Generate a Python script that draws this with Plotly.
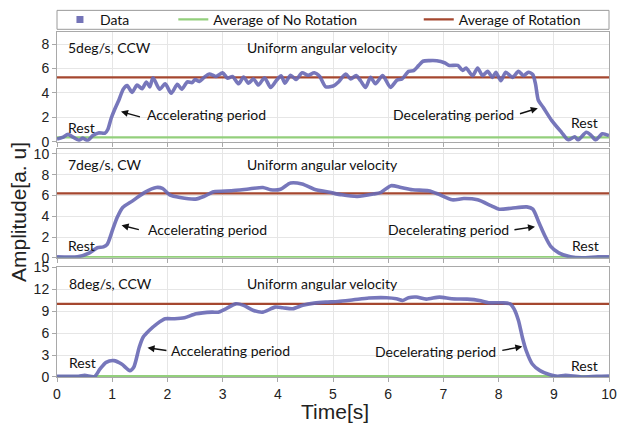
import plotly.graph_objects as go
from plotly.subplots import make_subplots

# ---------------- data ----------------
t1 = [0.0, 0.1, 0.2, 0.3, 0.4, 0.47, 0.55, 0.65, 0.75, 0.87, 0.92, 0.98, 1.05, 1.12, 1.2, 1.27, 1.36,
      1.45, 1.54, 1.62, 1.68, 1.74, 1.86, 1.96, 2.07, 2.18, 2.26, 2.36, 2.45, 2.5, 2.58, 2.67, 2.76,
      2.88, 3.0, 3.09, 3.18, 3.29, 3.38, 3.47, 3.56, 3.65, 3.76, 3.87, 3.97, 4.06, 4.13, 4.23, 4.33,
      4.44, 4.55, 4.66, 4.76, 4.87, 5.02, 5.1, 5.23, 5.32, 5.42, 5.5, 5.59, 5.68, 5.77, 5.9, 6.04,
      6.16, 6.25, 6.37, 6.46, 6.55, 6.63, 6.75, 6.88, 7.02, 7.11, 7.26, 7.35, 7.41, 7.53, 7.62, 7.71,
      7.8, 7.89, 7.95, 8.04, 8.13, 8.25, 8.36, 8.45, 8.54, 8.62, 8.67, 8.72, 8.81, 8.96, 9.14, 9.26,
      9.38, 9.44, 9.59, 9.68, 9.76, 9.88, 10.0]
v1 = [0.22, 0.35, 0.6, 0.35, 0.12, 0.3, 0.1, 0.5, 0.72, 0.7, 1.0, 1.9, 2.7, 3.4, 4.3, 4.6, 4.05,
      4.65, 4.35, 4.9, 4.5, 5.25, 4.3, 4.75, 3.97, 4.7, 4.3, 4.9, 4.85, 5.1, 4.95, 5.3, 5.55,
      5.35, 5.65, 5.2, 5.35, 4.75, 5.3, 4.8, 5.15, 4.65, 5.25, 4.45, 5.0, 5.4, 4.8, 5.45, 5.1,
      5.65, 5.45, 5.65, 5.35, 4.5, 4.6, 4.9, 5.55, 5.15, 5.42, 5.0, 4.45, 5.28, 4.75, 5.42, 4.46,
      5.05, 5.15, 5.77, 5.83, 6.24, 6.6, 6.65, 6.64, 6.48, 6.26, 6.26, 5.85, 6.05, 5.42, 6.05, 5.42,
      5.77, 5.28, 5.7, 5.0, 5.7, 5.28, 5.77, 5.42, 5.7, 5.5, 4.7, 3.4, 2.8, 1.75, 0.77, 0.15,
      0.4, 0.15, 0.77, 0.5, 0.15, 0.65, 0.5]

t2 = [0.0, 0.37, 0.59, 0.73, 0.84, 0.91, 1.01, 1.09, 1.19, 1.37, 1.59, 1.8, 1.91, 2.05, 2.23, 2.51,
      2.66, 2.84, 3.16, 3.44, 3.73, 3.87, 4.05, 4.23, 4.44, 4.66, 4.94, 5.16, 5.44, 5.73, 5.87, 6.05,
      6.23, 6.44, 6.73, 6.91, 7.16, 7.37, 7.62, 7.87, 8.01, 8.23, 8.51, 8.62, 8.73, 8.84, 8.94, 9.09,
      9.3, 9.51, 9.8, 10.0]
v2 = [0.1, 0.1, 0.48, 0.97, 1.06, 1.3, 2.74, 3.87, 4.84, 5.48, 6.3, 6.77, 6.68, 6.03, 5.8, 5.65,
      5.9, 6.35, 6.45, 6.6, 6.77, 6.55, 6.6, 7.2, 7.1, 6.6, 6.3, 6.06, 5.9, 6.13, 6.3, 6.94,
      6.77, 6.55, 6.45, 6.13, 5.58, 5.7, 5.58, 5.0, 4.68, 4.77, 4.9, 4.68, 3.39, 2.1, 1.13, 0.48,
      0.1, 0.0, 0.1, 0.1]

t3 = [0.0, 0.39, 0.5, 0.68, 0.78, 0.89, 1.03, 1.17, 1.32, 1.39, 1.49, 1.56, 1.67, 1.81, 1.96, 2.13,
      2.31, 2.52, 2.81, 2.92, 3.06, 3.24, 3.38, 3.56, 3.73, 3.95, 4.09, 4.27, 4.45, 4.66, 4.87, 5.09,
      5.37, 5.65, 5.97, 6.15, 6.26, 6.37, 6.51, 6.69, 6.93, 7.15, 7.43, 7.65, 7.82, 8.07, 8.21, 8.28,
      8.36, 8.43, 8.5, 8.61, 8.75, 8.93, 9.07, 9.21, 9.5, 9.78, 10.0]
v3 = [0.1, 0.1, 0.23, 0.05, 1.1, 2.0, 2.24, 1.78, 0.87, 1.33, 4.07, 5.44, 6.36, 7.27, 7.96, 7.96,
      8.1, 8.64, 8.87, 8.87, 9.33, 10.0, 9.8, 9.1, 8.87, 9.56, 9.47, 9.33, 9.8, 10.1, 10.24, 10.33,
      10.56, 10.8, 10.84, 10.7, 10.47, 10.84, 10.93, 10.65, 10.93, 10.7, 10.65, 10.47, 10.15, 10.15, 10.0, 9.33,
      7.73, 5.44, 3.6, 1.78, 0.87, 0.32, 0.1, 0.23, 0.0, 0.1, 0.14]

avg_no_rot = [0.36, 0.08, 0.12]
avg_rot = [5.28, 6.2, 10.0]
panel_labels = ["5deg/s, CCW", "7deg/s, CW", "8deg/s, CCW"]
y_ranges = [[0, 9], [0, 10.5], [0, 15]]
y_dticks = [2, 2, 3]
x_ticks = list(range(0, 11))

# ---------------- figure ----------------
W, H = 621, 429
ML, MR, MT, MB = 57, 4, 31, 52
PW, PH = W - ML - MR, H - MT - MB

def py(p):  # pixel y -> paper y
    return (H - MB - p) / PH

def px(p):
    return (p - ML) / PW

fig = make_subplots(rows=3, cols=1)

data_color = "rgba(104,104,180,0.9)"
green = "#93cf7c"
brown = "#a5472f"

series = [(t1, v1), (t2, v2), (t3, v3)]
for i, (tt, vv) in enumerate(series):
    r = i + 1
    fig.add_trace(go.Scatter(x=[0, 10], y=[avg_no_rot[i]] * 2, mode="lines",
                             line=dict(color=green, width=2.2), name="Average of No Rotation",
                             showlegend=(i == 0), legend="legend2"), row=r, col=1)
    fig.add_trace(go.Scatter(x=[0, 10], y=[avg_rot[i]] * 2, mode="lines",
                             line=dict(color=brown, width=2.2), name="Average of Rotation",
                             showlegend=(i == 0), legend="legend3"), row=r, col=1)
    fig.add_trace(go.Scatter(x=tt, y=vv, mode="lines",
                             line=dict(color=data_color, width=3.6, shape="spline", smoothing=0.7),
                             name="Data", showlegend=False), row=r, col=1)

# legend entry for data (square markers)
fig.add_trace(go.Scatter(x=[None], y=[None], mode="markers",
                         marker=dict(symbol="square", size=7, color="#7474b8"),
                         name="Data", legend="legend"), row=1, col=1)

domains = [[py(141), 1.0], [py(257.5), py(148)], [0.0, py(267)]]
axis_common = dict(showline=True, linecolor="#a9a9a9", linewidth=1, mirror=True,
                   showgrid=True, gridcolor="#e6e6e6", gridwidth=1, zeroline=False,
                   ticks="outside", ticklen=4, tickcolor="#a9a9a9",
                   tickfont=dict(family="Liberation Sans, Arial", size=14, color="#222"))
for i in range(3):
    xa = "xaxis" if i == 0 else f"xaxis{i+1}"
    ya = "yaxis" if i == 0 else f"yaxis{i+1}"
    fig.layout[xa].update(range=[0, 10], tickvals=x_ticks, showticklabels=(i == 2),
                          ticklabeloverflow="allow", **axis_common)
    fig.layout[ya].update(range=y_ranges[i], dtick=y_dticks[i], tick0=0, domain=domains[i],
                          ticklabeloverflow="allow", **axis_common)

ann_font = dict(family="Lato, Carlito, Calibri, sans-serif", size=14, color="#111")

# text annotations (panel, x, y, text, xanchor)
texts = [
    (1, 0.16, 7.7, panel_labels[0], "left"),
    (1, 4.81, 7.7, "Uniform angular velocity", "center"),
    (1, 0.16, 1.17, "Rest", "left"),
    (1, 1.6, 2.25, "Accelerating period", "left"),
    (1, 8.31, 2.25, "Decelerating period", "right"),
    (1, 9.55, 1.55, "Rest", "center"),
    (2, 0.16, 9.0, panel_labels[1], "left"),
    (2, 4.81, 9.0, "Uniform angular velocity", "center"),
    (2, 0.16, 1.2, "Rest", "left"),
    (2, 1.62, 2.75, "Accelerating period", "left"),
    (2, 8.23, 2.75, "Decelerating period", "right"),
    (2, 9.58, 1.2, "Rest", "center"),
    (3, 0.18, 12.76, panel_labels[2], "left"),
    (3, 4.81, 12.76, "Uniform angular velocity", "center"),
    (3, 0.18, 2.0, "Rest", "left"),
    (3, 2.03, 3.6, "Accelerating period", "left"),
    (3, 7.99, 3.55, "Decelerating period", "right"),
    (3, 9.55, 1.55, "Rest", "center"),
]
for p, x, y, txt, xa in texts:
    sfx = "" if p == 1 else str(p)
    fig.add_annotation(x=x, y=y, xref="x" + sfx, yref="y" + sfx, text=txt, showarrow=False,
                       xanchor=xa, yanchor="middle", font=ann_font)

# arrows (panel, head x, head y, tail x, tail y)
arrows = [
    (1, 1.16, 2.47, 1.53, 2.0),
    (1, 8.71, 2.75, 8.36, 2.25),
    (2, 1.17, 3.13, 1.51, 2.68),
    (2, 8.66, 3.0, 8.26, 2.68),
    (3, 1.64, 4.0, 2.01, 3.6),
    (3, 8.43, 4.16, 8.04, 3.6),
]
for p, hx, hy, tx, ty in arrows:
    sfx = "" if p == 1 else str(p)
    fig.add_annotation(x=hx, y=hy, xref="x" + sfx, yref="y" + sfx, ax=tx, ay=ty,
                       axref="x" + sfx, ayref="y" + sfx, text="", showarrow=True,
                       arrowhead=2, arrowsize=1, arrowwidth=1.4, arrowcolor="#111")

# axis titles
fig.add_annotation(x=px(339), y=py(412), xref="paper", yref="paper", text="Time[s]",
                   xanchor="center", yanchor="middle", showarrow=False,
                   font=dict(family="Liberation Sans, Arial", size=21, color="#222"))
fig.add_annotation(x=px(18), y=py(212), xref="paper", yref="paper", text="Amplitude[a. u]",
                   xanchor="center", yanchor="middle", textangle=-90, showarrow=False,
                   font=dict(family="Liberation Sans, Arial", size=21, color="#222"))

# legend box
fig.add_shape(type="rect", xref="paper", yref="paper", x0=0, x1=1, y0=py(28.3), y1=py(9.3),
              line=dict(color="#9a9a9a", width=1), fillcolor="white", layer="below")

leg_font = dict(family="Lato, Carlito, Calibri, sans-serif", size=14, color="#111")
leg_common = dict(orientation="h", yanchor="middle", xanchor="left", bgcolor="rgba(0,0,0,0)",
                  borderwidth=0, font=leg_font)
fig.update_layout(
    width=W, height=H,
    margin=dict(l=ML, r=MR, t=MT, b=MB),
    paper_bgcolor="white", plot_bgcolor="white",
    legend=dict(x=px(60), y=py(18.8), **leg_common),
    legend2=dict(x=px(175), y=py(18.8), **leg_common),
    legend3=dict(x=px(424), y=py(18.8), **leg_common),
)

fig.write_html("out.html")
